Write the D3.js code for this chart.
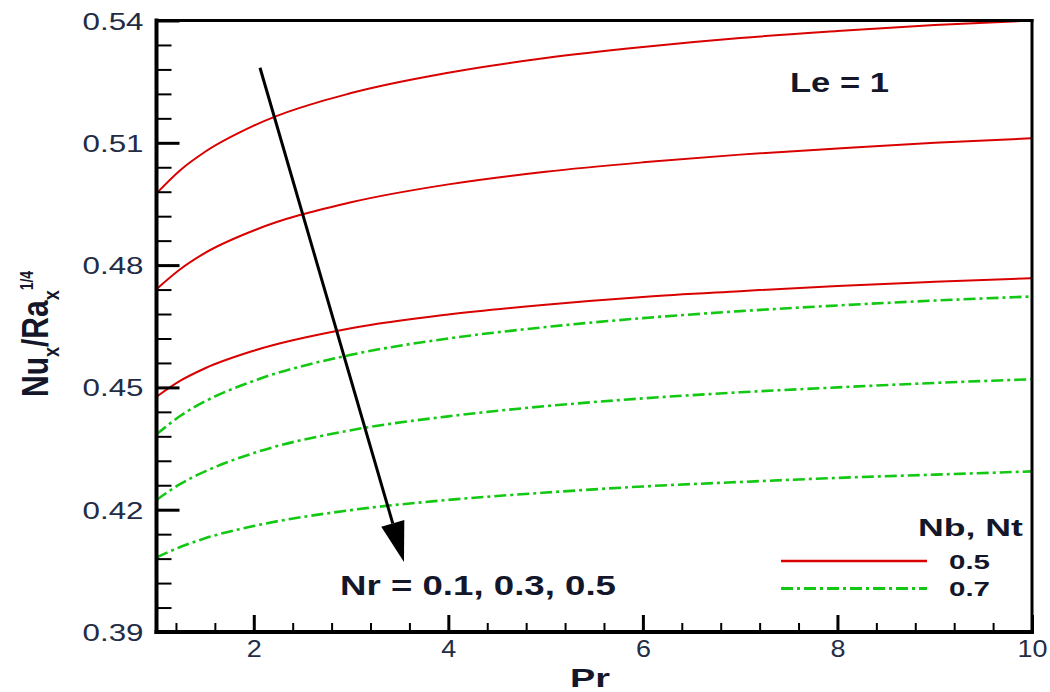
<!DOCTYPE html>
<html>
<head>
<meta charset="utf-8">
<script src="https://cdn.jsdelivr.net/npm/d3@7"></script>
<style>
  html, body { margin: 0; padding: 0; background: #fff; }
  svg { display: block; font-family: "Liberation Sans", Arial, Helvetica, sans-serif; }
</style>
</head>
<body>
<svg id="chart" width="1050" height="692"></svg>
<script>
// Local Nusselt number vs Prandtl number, Le = 1
const prValues = [1, 1.25, 1.5, 2, 3, 4, 5, 6, 7, 8, 9, 10];

// Nb = Nt = 0.5 (solid red), Nr = 0.1, 0.3, 0.5
const nb05_nr01 = [0.4976, 0.5034, 0.5078, 0.5142, 0.5222, 0.5272, 0.5308, 0.5335, 0.5357, 0.5374, 0.5389, 0.5400];
const nb05_nr03 = [0.4741, 0.4791, 0.4830, 0.4885, 0.4954, 0.4998, 0.5029, 0.5052, 0.5071, 0.5086, 0.5100, 0.5111];
const nb05_nr05 = [0.4477, 0.4517, 0.4547, 0.4590, 0.4645, 0.4679, 0.4703, 0.4722, 0.4736, 0.4749, 0.4759, 0.4768];

// Nb = Nt = 0.7 (green dash-dot), Nr = 0.1, 0.3, 0.5
const nb07_nr01 = [0.4385, 0.4431, 0.4466, 0.4516, 0.4580, 0.4620, 0.4648, 0.4670, 0.4687, 0.4701, 0.4713, 0.4723];
const nb07_nr03 = [0.4224, 0.4264, 0.4294, 0.4339, 0.4395, 0.4429, 0.4454, 0.4473, 0.4488, 0.4500, 0.4511, 0.4520];
const nb07_nr05 = [0.4083, 0.4109, 0.4130, 0.4160, 0.4199, 0.4224, 0.4242, 0.4257, 0.4268, 0.4278, 0.4286, 0.4294];

const xMajorTicks = [2, 4, 6, 8, 10];
const xMinorTicks = [1.2, 1.6, 2.4, 2.8, 3.2, 3.6, 4.4, 4.8, 5.2, 5.6, 6.4, 6.8, 7.2, 7.6, 8.4, 8.8, 9.2, 9.6];
const yMajorTicks = [0.39, 0.42, 0.45, 0.48, 0.51, 0.54];
const yMinorTicks = [0.396, 0.402, 0.408, 0.414, 0.426, 0.432, 0.438, 0.444,
                     0.456, 0.462, 0.468, 0.474, 0.486, 0.492, 0.498, 0.504,
                     0.516, 0.522, 0.528, 0.534];
const yTickLabels = ["0.39", "0.42", "0.45", "0.48", "0.51", "0.54"];

const legendTitle = "Nb, Nt";
const legendLabels = ["0.5", "0.7"];
const seriesGroups = [
  { key: "0.5", sets: [nb05_nr01, nb05_nr03, nb05_nr05] },
  { key: "0.7", sets: [nb07_nr01, nb07_nr03, nb07_nr05] }
];

// arrow showing increasing Nr (Pr, value pairs)
const arrowStart = [2.064, 0.5284];
const arrowTip = [3.544, 0.4072];

const RED = "#d90000";
const GREEN = "#12c812";
const TEXT = "#14162a";
const TICKTEXT = "#232c45";
const GREEN_DASH = "12,4,3,4";

const svg = d3.select("#chart");

const x = d3.scaleLinear().domain([1, 10]).range([156.5, 1032]);
const y = d3.scaleLinear().domain([0.39, 0.54]).range([632, 20.5]);

const plot = svg.append("g");

svg.append("defs").append("clipPath").attr("id", "plotClip")
  .append("rect").attr("x", x(1)).attr("y", y(0.54) - 2)
  .attr("width", x(10) - x(1)).attr("height", y(0.39) - y(0.54) + 2);

// curves
const line = d3.line()
  .x((d, i) => x(prValues[i]))
  .y(d => y(d))
  .curve(d3.curveMonotoneX);

const curves = plot.append("g").attr("clip-path", "url(#plotClip)");
seriesGroups.forEach(g => {
  g.sets.forEach(vals => {
    curves.append("path")
      .attr("d", line(vals))
      .attr("fill", "none")
      .attr("stroke", g.key === "0.5" ? RED : GREEN)
      .attr("stroke-width", g.key === "0.5" ? 2 : 2.6)
      .attr("stroke-dasharray", g.key === "0.5" ? null : GREEN_DASH);
  });
});

// axes with inward ticks
function styleAxis(sel) {
  sel.select(".domain").remove();
  sel.selectAll(".tick line").attr("stroke", "#000");
}

const yMajor = svg.append("g").attr("transform", `translate(${x(1)},0)`)
  .call(d3.axisLeft(y).tickValues(yMajorTicks).tickSize(-23).tickPadding(0)
        .tickFormat((d, i) => yTickLabels[i]));
styleAxis(yMajor);
yMajor.selectAll(".tick line").attr("stroke-width", 3);
yMajor.selectAll(".tick text")
  .attr("x", -74).attr("y", 8.5).attr("dy", null)
  .attr("text-anchor", "start")
  .attr("textLength", 61).attr("lengthAdjust", "spacingAndGlyphs")
  .attr("font-size", 24).attr("fill", TICKTEXT);

const yMinor = svg.append("g").attr("transform", `translate(${x(1)},0)`)
  .call(d3.axisLeft(y).tickValues(yMinorTicks).tickSize(-15).tickFormat(""));
styleAxis(yMinor);
yMinor.selectAll(".tick line").attr("stroke-width", 2);

const xMajor = svg.append("g").attr("transform", `translate(0,${y(0.39)})`)
  .call(d3.axisBottom(x).tickValues(xMajorTicks).tickSize(-17).tickFormat(d3.format("d")));
styleAxis(xMajor);
xMajor.selectAll(".tick line").attr("stroke-width", 3);
xMajor.selectAll(".tick text")
  .each(function(d) {
    const w = String(d).length * 15;
    d3.select(this)
      .attr("x", -w / 2).attr("y", 25).attr("dy", null)
      .attr("text-anchor", "start")
      .attr("textLength", w).attr("lengthAdjust", "spacingAndGlyphs");
  })
  .attr("font-size", 24).attr("fill", TICKTEXT);

const xMinor = svg.append("g").attr("transform", `translate(0,${y(0.39)})`)
  .call(d3.axisBottom(x).tickValues(xMinorTicks).tickSize(-9).tickFormat(""));
styleAxis(xMinor);
xMinor.selectAll(".tick line").attr("stroke-width", 2);

// frame
const frame = svg.append("g").attr("stroke", "#000").attr("stroke-linecap", "square");
frame.append("line").attr("x1", x(1)).attr("x2", x(1)).attr("y1", y(0.54)).attr("y2", y(0.39)).attr("stroke-width", 4);
frame.append("line").attr("x1", x(1)).attr("x2", x(10)).attr("y1", y(0.39)).attr("y2", y(0.39)).attr("stroke-width", 4);
frame.append("line").attr("x1", x(1)).attr("x2", x(10)).attr("y1", y(0.54)).attr("y2", y(0.54)).attr("stroke-width", 3);
frame.append("line").attr("x1", x(10)).attr("x2", x(10)).attr("y1", y(0.54)).attr("y2", y(0.39)).attr("stroke-width", 3);

// axis titles
svg.append("text")
  .attr("x", 570).attr("y", 687)
  .attr("font-size", 26).attr("font-weight", "bold").attr("fill", TEXT)
  .attr("textLength", 40).attr("lengthAdjust", "spacingAndGlyphs")
  .text("Pr");

const yTitle = svg.append("text")
  .attr("transform", "translate(48,397) scale(1.25,1) rotate(-90)")
  .attr("font-size", 30).attr("font-weight", "bold").attr("fill", TEXT);
yTitle.append("tspan").text("Nu");
yTitle.append("tspan").attr("font-size", 18).attr("dy", 8.8).text("x");
yTitle.append("tspan").attr("dy", -8.8).text("/Ra");
yTitle.append("tspan").attr("font-size", 18).attr("dy", 8.8).text("x");
yTitle.append("tspan").attr("font-size", 14).attr("dy", -20.5).text("1/4");

// annotations
svg.append("text")
  .attr("x", 790).attr("y", 92)
  .attr("font-size", 28).attr("font-weight", "bold").attr("fill", TEXT)
  .attr("textLength", 99).attr("lengthAdjust", "spacingAndGlyphs")
  .text("Le = 1");

svg.append("text")
  .attr("x", 340).attr("y", 595)
  .attr("font-size", 28).attr("font-weight", "bold").attr("fill", TEXT)
  .attr("textLength", 276).attr("lengthAdjust", "spacingAndGlyphs")
  .text("Nr = 0.1, 0.3, 0.5");

// arrow
const ax0 = x(arrowStart[0]), ay0 = y(arrowStart[1]);
const ax1 = x(arrowTip[0]), ay1 = y(arrowTip[1]);
const ang = Math.atan2(ay1 - ay0, ax1 - ax0);
const headLen = 40, headHalf = 12;
const bx = ax1 - headLen * Math.cos(ang), by = ay1 - headLen * Math.sin(ang);
svg.append("line")
  .attr("x1", ax0).attr("y1", ay0).attr("x2", bx).attr("y2", by)
  .attr("stroke", "#000").attr("stroke-width", 3);
svg.append("path")
  .attr("d", `M${ax1},${ay1} L${bx + headHalf * Math.sin(ang)},${by - headHalf * Math.cos(ang)} L${bx - headHalf * Math.sin(ang)},${by + headHalf * Math.cos(ang)} Z`)
  .attr("fill", "#000");

// legend
const legend = svg.append("g");
legend.append("text")
  .attr("x", 918).attr("y", 536)
  .attr("font-size", 24.5).attr("font-weight", "bold").attr("fill", TEXT)
  .attr("textLength", 105).attr("lengthAdjust", "spacingAndGlyphs")
  .text(legendTitle);
legendLabels.forEach((lab, i) => {
  const ly = 561 + i * 27.5;
  legend.append("line")
    .attr("x1", 781).attr("x2", 927).attr("y1", ly).attr("y2", ly)
    .attr("stroke", i === 0 ? RED : GREEN)
    .attr("stroke-width", i === 0 ? 2.6 : 3)
    .attr("stroke-dasharray", i === 0 ? null : GREEN_DASH);
  legend.append("text")
    .attr("x", 949).attr("y", ly + 7.5)
    .attr("font-size", 21).attr("font-weight", "bold").attr("fill", TEXT)
    .attr("textLength", 41).attr("lengthAdjust", "spacingAndGlyphs")
    .text(lab);
});
</script>
</body>
</html>
